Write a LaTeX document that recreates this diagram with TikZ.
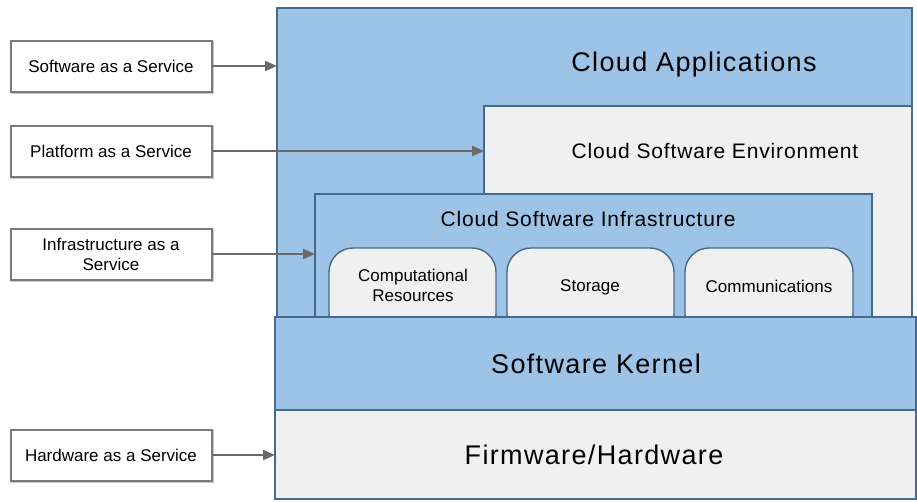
\documentclass[tikz,border=0pt]{standalone}
\usepackage{fontspec}
\setmainfont{Liberation Sans}
\newfontfamily\bigfont[LetterSpace=5]{Liberation Sans}
\newfontfamily\midfont[LetterSpace=4]{Liberation Sans}
\usetikzlibrary{arrows.meta}
\definecolor{cblue}{HTML}{9DC3E6}
\definecolor{cedge}{HTML}{46698F}
\definecolor{cgray}{HTML}{F0F0F0}
\definecolor{carrow}{HTML}{6A6A6A}
\definecolor{cbox}{HTML}{7A7A7A}
\definecolor{cshadow}{HTML}{C8C8C8}
\begin{document}
\begin{tikzpicture}[x=1pt,y=-1pt,
 layer/.style={draw=cedge, line width=1.4pt, inner sep=0pt, outer sep=0pt, anchor=north west},
 bluebox/.style={layer, fill=cblue},
 graybox/.style={layer, fill=cgray},
 pill/.style={graybox, rounded corners=24pt},
 svc/.style={draw=cbox, line width=2pt, fill=white, minimum width=201pt, minimum height=51pt, inner sep=2pt, outer sep=0pt, align=center, font=\fontsize{17}{20}\selectfont},
 shadowbox/.style={fill=cshadow, draw=none, minimum width=203pt, minimum height=53pt, inner sep=0pt},
 arr/.style={draw=carrow, line width=2.3pt, -{Triangle[length=12pt,width=10pt]}},
 big/.style={font=\bigfont\fontsize{27}{32}\selectfont, inner sep=0pt},
 mid/.style={font=\midfont\fontsize{21}{25}\selectfont, inner sep=0pt},
 small/.style={font=\fontsize{17}{20}\selectfont, align=center, inner sep=0pt}]
\useasboundingbox (0,0) rectangle (917,501);

% stacked layers
\node[bluebox, minimum width=635pt, minimum height=320pt] (apps) at (277,8) {};
\node[graybox, minimum width=428pt, minimum height=220pt] (cse) at (484,106) {};
\node[bluebox, minimum width=557pt, minimum height=130pt] (csi) at (315,194) {};
\node[pill, minimum width=167pt, minimum height=90pt] (comp) at (329,248) {};
\node[pill, minimum width=167pt, minimum height=90pt] (stor) at (507,248) {};
\node[pill, minimum width=168pt, minimum height=90pt] (comm) at (685,248) {};
\node[bluebox, minimum width=641pt, minimum height=93pt] (kern) at (275,317) {};
\node[graybox, minimum width=641pt, minimum height=89pt] (fw) at (275,410) {};

% layer texts
\node[big] (appsT) at (694,65) {Cloud Applications};
\node[mid] (cseT) at (715,151) {Cloud Software Environment};
\node[mid] (csiT) at (588,219) {Cloud Software Infrastructure};
\node[small] (compT) at (413,285) {Computational\\Resources};
\node[small] (storT) at (590,287) {Storage};
\node[small] (commT) at (769,286) {Communications};
\node[big] (kernT) at (596,364) {Software Kernel};
\node[big] (fwT) at (594,455) {Firmware/Hardware};

% shadows of service boxes
\node[shadowbox] (saasS) at (112.5,67.5) {};
\node[shadowbox] (paasS) at (112.5,152.5) {};
\node[shadowbox] (iaasS) at (112.5,255.5) {};
\node[shadowbox] (haasS) at (112.5,456.5) {};

% service boxes
\node[svc] (saas) at (111,66) {Software as a Service};
\node[svc] (paas) at (111,151) {Platform as a Service};
\node[svc] (iaas) at (111,254) {Infrastructure as a\\Service};
\node[svc] (haas) at (111,455) {Hardware as a Service};

% arrows
\draw[arr] (saas.east) -- (saas.east -| apps.west);
\draw[arr] (paas.east) -- (paas.east -| cse.west);
\draw[arr] (iaas.east) -- (iaas.east -| csi.west);
\draw[arr] (haas.east) -- (haas.east -| fw.west);
\end{tikzpicture}
\end{document}
